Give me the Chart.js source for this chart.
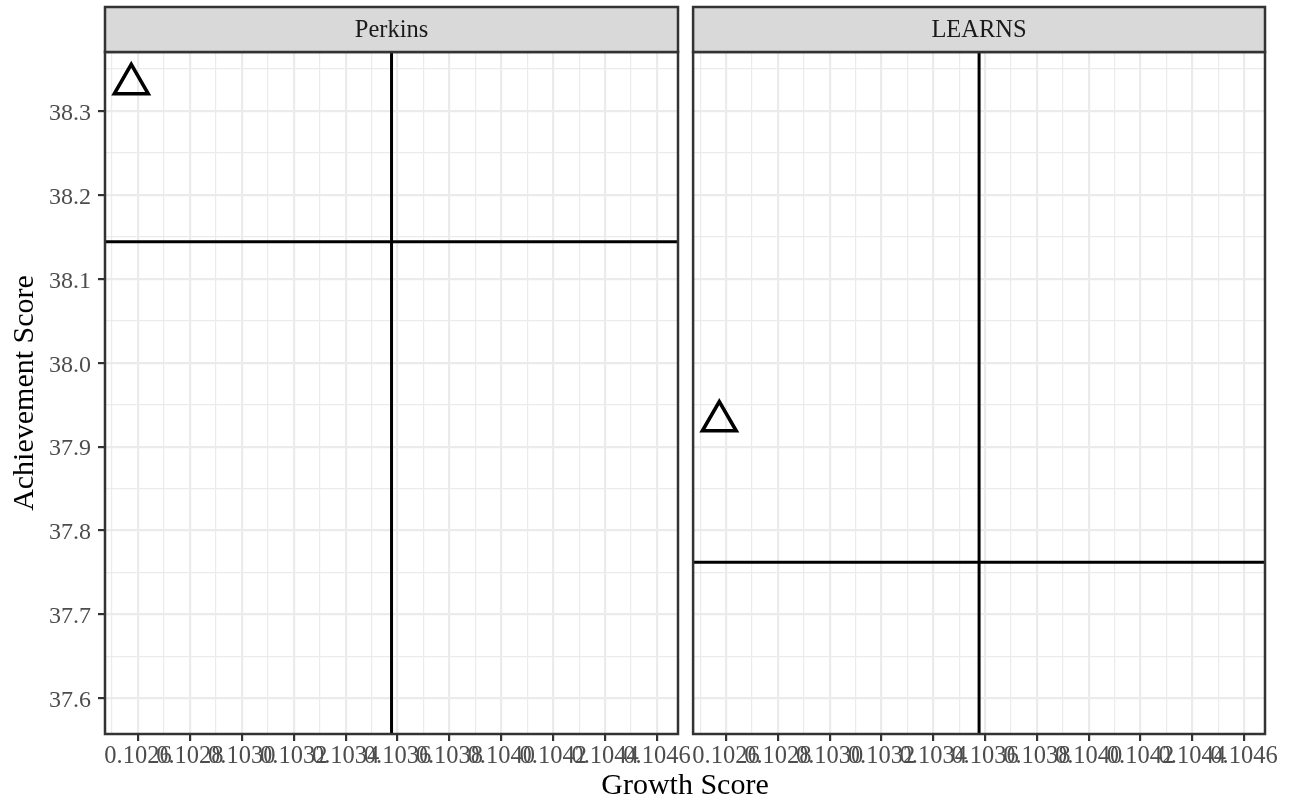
<!DOCTYPE html>
<html>
<head>
<meta charset="utf-8">
<script src="https://cdn.jsdelivr.net/npm/chart.js@4/dist/chart.umd.min.js"></script>
<style>
  html, body { margin: 0; padding: 0; background: #ffffff; }
  body { width: 1294px; height: 805px; overflow: hidden; position: relative; font-family: "Liberation Serif", serif; }
  #c1 { position: absolute; left: 0; top: 0; }
  #c2 { position: absolute; left: 670px; top: 0; }
  #xtitle { position: absolute; left: 385px; width: 600px; top: 766px; height: 36px; line-height: 36px;
            text-align: center; font-size: 30px; color: #000; font-family: "Liberation Serif", serif; }
</style>
</head>
<body>
<canvas id="c1" width="720" height="805"></canvas>
<canvas id="c2" width="624" height="805"></canvas>
<div id="xtitle">Growth Score</div>
<script>
// ---- data ----
const panels = ['Perkins', 'LEARNS'];
const growthScore = [0.102574, 0.102574];
const achievementScore = [38.3322, 37.9305];
const growthMean = [0.103577, 0.103577];
const achievementMean = [38.1442, 37.7621];
const xMajorTicks = [0.1026, 0.1028, 0.1030, 0.1032, 0.1034, 0.1036, 0.1038, 0.1040, 0.1042, 0.1044, 0.1046];
const xMinorTicks = [0.1025, 0.1027, 0.1029, 0.1031, 0.1033, 0.1035, 0.1037, 0.1039, 0.1041, 0.1043, 0.1045];
const yMajorTicks = [37.6, 37.7, 37.8, 37.9, 38.0, 38.1, 38.2, 38.3];
const yMinorTicks = [37.65, 37.75, 37.85, 37.95, 38.05, 38.15, 38.25, 38.35];
const xLimits = [0.1024728, 0.1046809];
const yLimits = [37.5575, 38.3703];

// ---- helpers ----
const FONT = 'Liberation Serif';
const isIn = (v, arr) => arr.some(m => Math.abs(m - v) < 1e-9);
const xAll = xMajorTicks.concat(xMinorTicks).sort((a, b) => a - b);
const yAll = yMajorTicks.concat(yMinorTicks).sort((a, b) => a - b);

const panelPlugin = {
  id: 'panelDeco',
  afterDatasetsDraw(chart) {
    const { ctx, chartArea: a } = chart;
    ctx.save();
    ctx.strokeStyle = '#333333';
    ctx.lineWidth = 2.5;
    ctx.strokeRect(a.left, a.top, a.right - a.left, a.bottom - a.top);
    ctx.restore();
  },
  afterDraw(chart) {
    const { ctx, chartArea: a } = chart;
    const label = chart.options.plugins.panelDeco.label;
    const top = 7, bottom = a.top;
    ctx.save();
    ctx.fillStyle = '#D9D9D9';
    ctx.fillRect(a.left, top, a.right - a.left, bottom - top);
    ctx.strokeStyle = '#333333';
    ctx.lineWidth = 2.5;
    ctx.strokeRect(a.left, top, a.right - a.left, bottom - top);
    ctx.fillStyle = '#1A1A1A';
    ctx.font = '24.5px "' + FONT + '"';
    ctx.textAlign = 'center';
    ctx.textBaseline = 'middle';
    ctx.fillText(label, (a.left + a.right) / 2, (top + bottom) / 2 + 1);
    ctx.restore();
  }
};

function makeChart(canvasId, i, first) {
  const datasets = [
    {
      label: 'vmean', showLine: true, borderColor: '#000', borderWidth: 3, pointRadius: 0,
      data: [{ x: growthMean[i], y: yLimits[0] }, { x: growthMean[i], y: yLimits[1] }]
    },
    {
      label: 'hmean', showLine: true, borderColor: '#000', borderWidth: 3, pointRadius: 0,
      data: [{ x: xLimits[0], y: achievementMean[i] }, { x: xLimits[1], y: achievementMean[i] }]
    },
    {
      label: panels[i], pointStyle: 'triangle', pointRadius: 19.5, borderColor: '#000',
      backgroundColor: 'rgba(0,0,0,0)', borderWidth: 3.6,
      data: [{ x: growthScore[i], y: achievementScore[i] }]
    }
  ];
  const gridX = {
    color: '#EBEBEB',
    lineWidth: c => (c.tick && isIn(c.tick.value, xMajorTicks)) ? 2.2 : 1.2,
    tickColor: c => (c.tick && isIn(c.tick.value, xMajorTicks)) ? '#333333' : 'rgba(0,0,0,0)',
    tickWidth: 2.2,
    tickLength: 7,
    drawTicks: true
  };
  const gridY = {
    color: '#EBEBEB',
    lineWidth: c => (c.tick && isIn(c.tick.value, yMajorTicks)) ? 2.2 : 1.2,
    tickColor: c => (c.tick && isIn(c.tick.value, yMajorTicks)) ? '#333333' : 'rgba(0,0,0,0)',
    tickWidth: 2.2,
    tickLength: 7,
    drawTicks: first
  };
  return new Chart(document.getElementById(canvasId), {
    type: 'scatter',
    data: { datasets },
    options: {
      responsive: false, animation: false, devicePixelRatio: 1,
      layout: { padding: first ? { left: 0, top: 52, right: 42, bottom: 0 } : { left: 15, top: 52, right: 29, bottom: 0 } },
      plugins: { legend: { display: false }, tooltip: { enabled: false }, panelDeco: { label: panels[i] } },
      scales: {
        x: {
          type: 'linear', min: xLimits[0], max: xLimits[1],
          afterBuildTicks: s => { s.ticks = xAll.map(v => ({ value: v })); },
          afterFit: s => { s.height = 71; s.paddingLeft = 0; s.paddingRight = 0; },
          ticks: {
            autoSkip: false, maxRotation: 0, minRotation: 0, padding: 1,
            color: '#4D4D4D', font: { family: FONT, size: 24.5 },
            callback: v => isIn(v, xMajorTicks) ? v.toFixed(4) : ''
          },
          grid: gridX,
          border: { display: false }
        },
        y: {
          type: 'linear', min: yLimits[0], max: yLimits[1],
          afterBuildTicks: s => { s.ticks = yAll.map(v => ({ value: v })); },
          afterFit: s => { s.width = first ? 105 : 7; s.paddingTop = 0; s.paddingBottom = 0; },
          ticks: {
            display: first, autoSkip: false, padding: 7, labelOffset: 2.5,
            color: '#4D4D4D', font: { family: FONT, size: 24 },
            callback: v => isIn(v, yMajorTicks) ? v.toFixed(1) : ''
          },
          grid: gridY,
          border: { display: false },
          title: {
            display: first, text: 'Achievement Score', color: '#000',
            font: { family: FONT, size: 30 }, padding: { top: 7, bottom: 0 }
          }
        }
      }
    },
    plugins: [panelPlugin]
  });
}

makeChart('c1', 0, true);
makeChart('c2', 1, false);
</script>
</body>
</html>
